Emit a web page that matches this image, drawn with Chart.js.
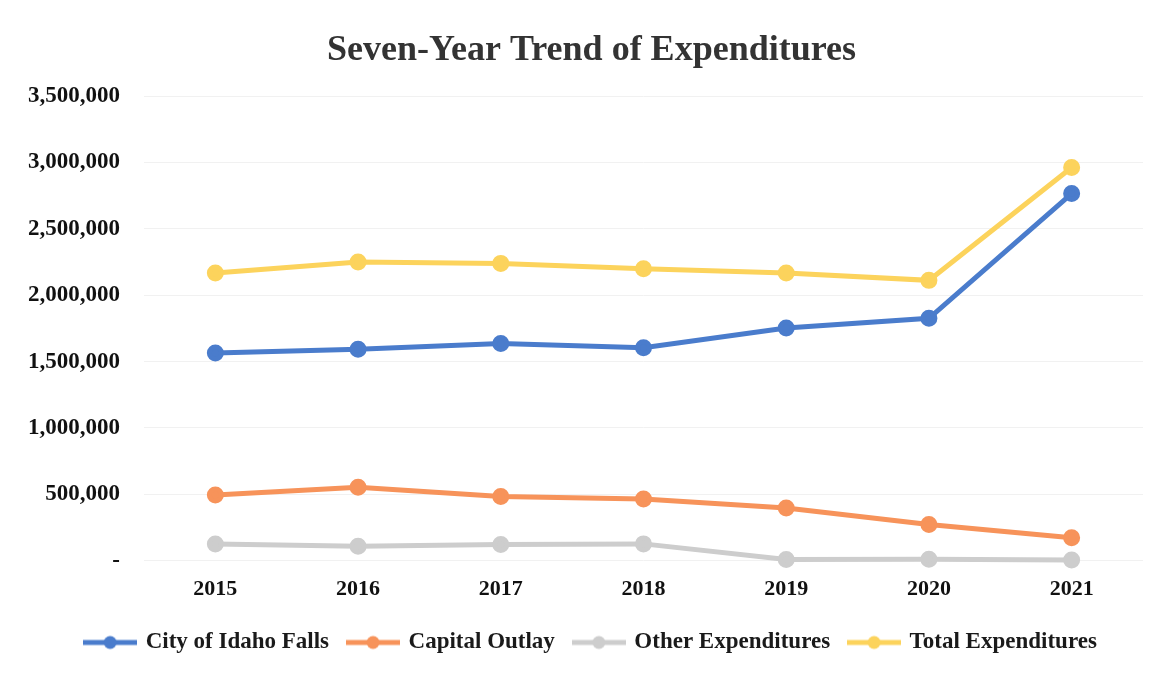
<!DOCTYPE html>
<html>
<head>
<meta charset="utf-8">
<script src="https://cdn.jsdelivr.net/npm/chart.js@4.4.1/dist/chart.umd.min.js"></script>
<style>
  html, body { margin: 0; padding: 0; background: #ffffff; }
  #wrap { width: 1167px; height: 677px; }
</style>
</head>
<body>
<div id="wrap"><canvas id="grafico"></canvas></div>
<script>
// Datos
const anios = ['2015', '2016', '2017', '2018', '2019', '2020', '2021'];
const ciudadIdahoFalls = [1565000, 1593000, 1636000, 1605000, 1753000, 1826000, 2766000];
const capitalOutlay = [495000, 553000, 483000, 465000, 396000, 272000, 172000];
const otrosGastos = [125000, 108000, 121000, 126000, 8000, 10000, 5000];
const gastosTotales = [2168000, 2250000, 2240000, 2200000, 2168000, 2112000, 2962000];
const ticksY = [0, 500000, 1000000, 1500000, 2000000, 2500000, 3000000, 3500000];

const fuente = '"Liberation Serif", "Times New Roman", serif';

// Icono de leyenda: línea con círculo
function iconoLeyenda(color) {
    const c = document.createElement('canvas');
    c.width = 54;
    c.height = 16;
    const ctx = c.getContext('2d');
    ctx.strokeStyle = color;
    ctx.lineWidth = 5;
    ctx.beginPath();
    ctx.moveTo(0, 8);
    ctx.lineTo(54, 8);
    ctx.stroke();
    ctx.fillStyle = color;
    ctx.beginPath();
    ctx.arc(27, 8, 6.5, 0, Math.PI * 2);
    ctx.fill();
    return c;
}

function serie(label, data, color) {
    return {
        label: label,
        data: data,
        borderColor: color,
        backgroundColor: color,
        borderWidth: 5,
        pointRadius: 6,
        pointHoverRadius: 6,
        pointBackgroundColor: color,
        pointBorderColor: color,
        tension: 0,
        clip: false
    };
}

// Desplaza título y leyenda un poco a la derecha, como en el original
const desplazarBloques = {
    id: 'desplazarBloques',
    afterLayout(chart) {
        [chart.titleBlock, chart.legend].forEach(b => {
            if (b) {
                b.left += 17;
                b.right += 17;
            }
        });
    }
};

new Chart(document.getElementById('grafico'), {
    type: 'line',
    data: {
        labels: anios,
        datasets: [
            serie('City of Idaho Falls', ciudadIdahoFalls, '#4a7ccc'),
            serie('Capital Outlay', capitalOutlay, '#f7935a'),
            serie('Other Expenditures', otrosGastos, '#cdcdcd'),
            serie('Total Expenditures', gastosTotales, '#fcd35c')
        ]
    },
    options: {
        responsive: true,
        maintainAspectRatio: false,
        animation: false,
        layout: {
            padding: { left: 6, right: 24, top: 29, bottom: 13 }
        },
        plugins: {
            title: {
                display: true,
                text: 'Seven-Year Trend of Expenditures',
                color: '#333333',
                font: { family: fuente, size: 36, weight: 'bold' },
                padding: { top: 0, bottom: 24 }
            },
            legend: {
                position: 'bottom',
                labels: {
                    usePointStyle: true,
                    pointStyleWidth: 48,
                    padding: 20,
                    color: '#1a1a1a',
                    font: { family: fuente, size: 23, weight: 'bold' },
                    generateLabels: function (chart) {
                        return chart.data.datasets.map((ds, i) => ({
                            text: ds.label,
                            fillStyle: ds.borderColor,
                            strokeStyle: ds.borderColor,
                            lineWidth: 0,
                            pointStyle: iconoLeyenda(ds.borderColor),
                            fontColor: '#1a1a1a',
                            hidden: !chart.isDatasetVisible(i),
                            datasetIndex: i
                        }));
                    }
                }
            },
            tooltip: { enabled: false }
        },
        scales: {
            x: {
                offset: true,
                grid: { display: false },
                border: { display: false },
                ticks: {
                    color: '#111111',
                    padding: 8,
                    font: { family: fuente, size: 22, weight: 'bold' }
                }
            },
            y: {
                min: 0,
                max: 3500000,
                afterBuildTicks: function (eje) {
                    eje.ticks = ticksY.map(v => ({ value: v }));
                },
                afterFit: function (eje) {
                    eje.width = 138;
                },
                grid: { color: '#f1f1f1', lineWidth: 1, drawTicks: false },
                border: { display: false },
                ticks: {
                    color: '#111111',
                    padding: 24,
                    font: { family: fuente, size: 23, weight: 'bold' },
                    callback: function (v) {
                        return v === 0 ? '-' : v.toLocaleString('en-US');
                    }
                }
            }
        }
    },
    plugins: [desplazarBloques]
});
</script>
</body>
</html>
